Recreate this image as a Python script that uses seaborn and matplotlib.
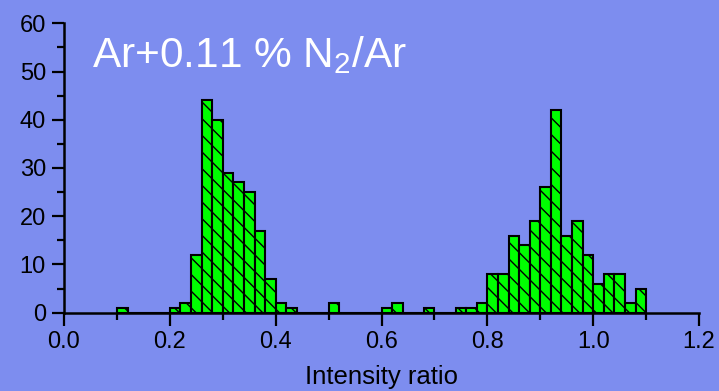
import numpy as np
import matplotlib
matplotlib.use("Agg")
import matplotlib.pyplot as plt
import seaborn as sns
from matplotlib.ticker import MultipleLocator

# ---- data (bin centres, bin width 0.02) ----
ratio_centers = [0.11, 0.21, 0.23, 0.25, 0.27, 0.29, 0.31, 0.33, 0.35, 0.37,
                 0.39, 0.41, 0.43, 0.51, 0.61, 0.63, 0.69, 0.75, 0.77, 0.79,
                 0.81, 0.83, 0.85, 0.87, 0.89, 0.91, 0.93, 0.95, 0.97, 0.99,
                 1.01, 1.03, 1.05, 1.07, 1.09]
counts = [1, 1, 2, 12, 44, 40, 29, 27, 25, 17,
          7, 2, 1, 2, 1, 2, 1, 1, 1, 2,
          8, 8, 16, 14, 19, 26, 42, 16, 19, 12,
          6, 8, 8, 2, 5]
x_ticks = [0.0, 0.2, 0.4, 0.6, 0.8, 1.0, 1.2]
x_tick_labels = ["0.0", "0.2", "0.4", "0.6", "0.8", "1.0", "1.2"]
y_ticks = [0, 10, 20, 30, 40, 50, 60]
title_text = "Ar+0.11 % N$\\mathregular{_2}$/Ar"
x_label = "Intensity ratio"

BG = "#7D8DEF"

sns.set_style("ticks")
plt.rcParams["font.family"] = ["Liberation Sans", "DejaVu Sans"]
plt.rcParams["mathtext.fontset"] = "custom"
plt.rcParams["mathtext.rm"] = "Liberation Sans"
plt.rcParams["hatch.linewidth"] = 1.0

fig = plt.figure(figsize=(7.19, 3.91), dpi=100, facecolor=BG)
ax = fig.add_axes([64 / 719, 1 - 312.7 / 391, (699 - 64) / 719, (312.7 - 23.3) / 391])
ax.set_facecolor(BG)

sns.histplot(x=ratio_centers, weights=counts, binwidth=0.02, binrange=(0.10, 1.10),
             color="#00FF00", edgecolor="black", linewidth=1.5, alpha=1,
             hatch="\\\\", ax=ax)

ax.set_xlim(0, 1.2)
ax.set_ylim(0, 60)
ax.set_xticks(x_ticks)
ax.set_xticklabels(x_tick_labels)
ax.set_yticks(y_ticks)
ax.xaxis.set_minor_locator(MultipleLocator(0.1))
ax.yaxis.set_minor_locator(MultipleLocator(5))
ax.tick_params(axis="both", which="major", length=9, width=1.6, color="black",
               labelsize=17, labelcolor="black", pad=4)
ax.tick_params(axis="both", which="minor", length=5, width=1.6, color="black")

for s in ["top", "right"]:
    ax.spines[s].set_visible(False)
for s in ["left", "bottom"]:
    ax.spines[s].set_linewidth(1.8)
    ax.spines[s].set_color("black")
ax.spines["left"].set_zorder(5)
ax.spines["bottom"].set_zorder(5)

ax.set_ylabel("")
ax.set_xlabel(x_label, fontsize=18.5, color="black", labelpad=9)

fig.text(92 / 719, 1 - 67 / 391, title_text, color="white", fontsize=30.5,
         ha="left", va="baseline")

fig.savefig("out.png", dpi=100, facecolor=BG)
